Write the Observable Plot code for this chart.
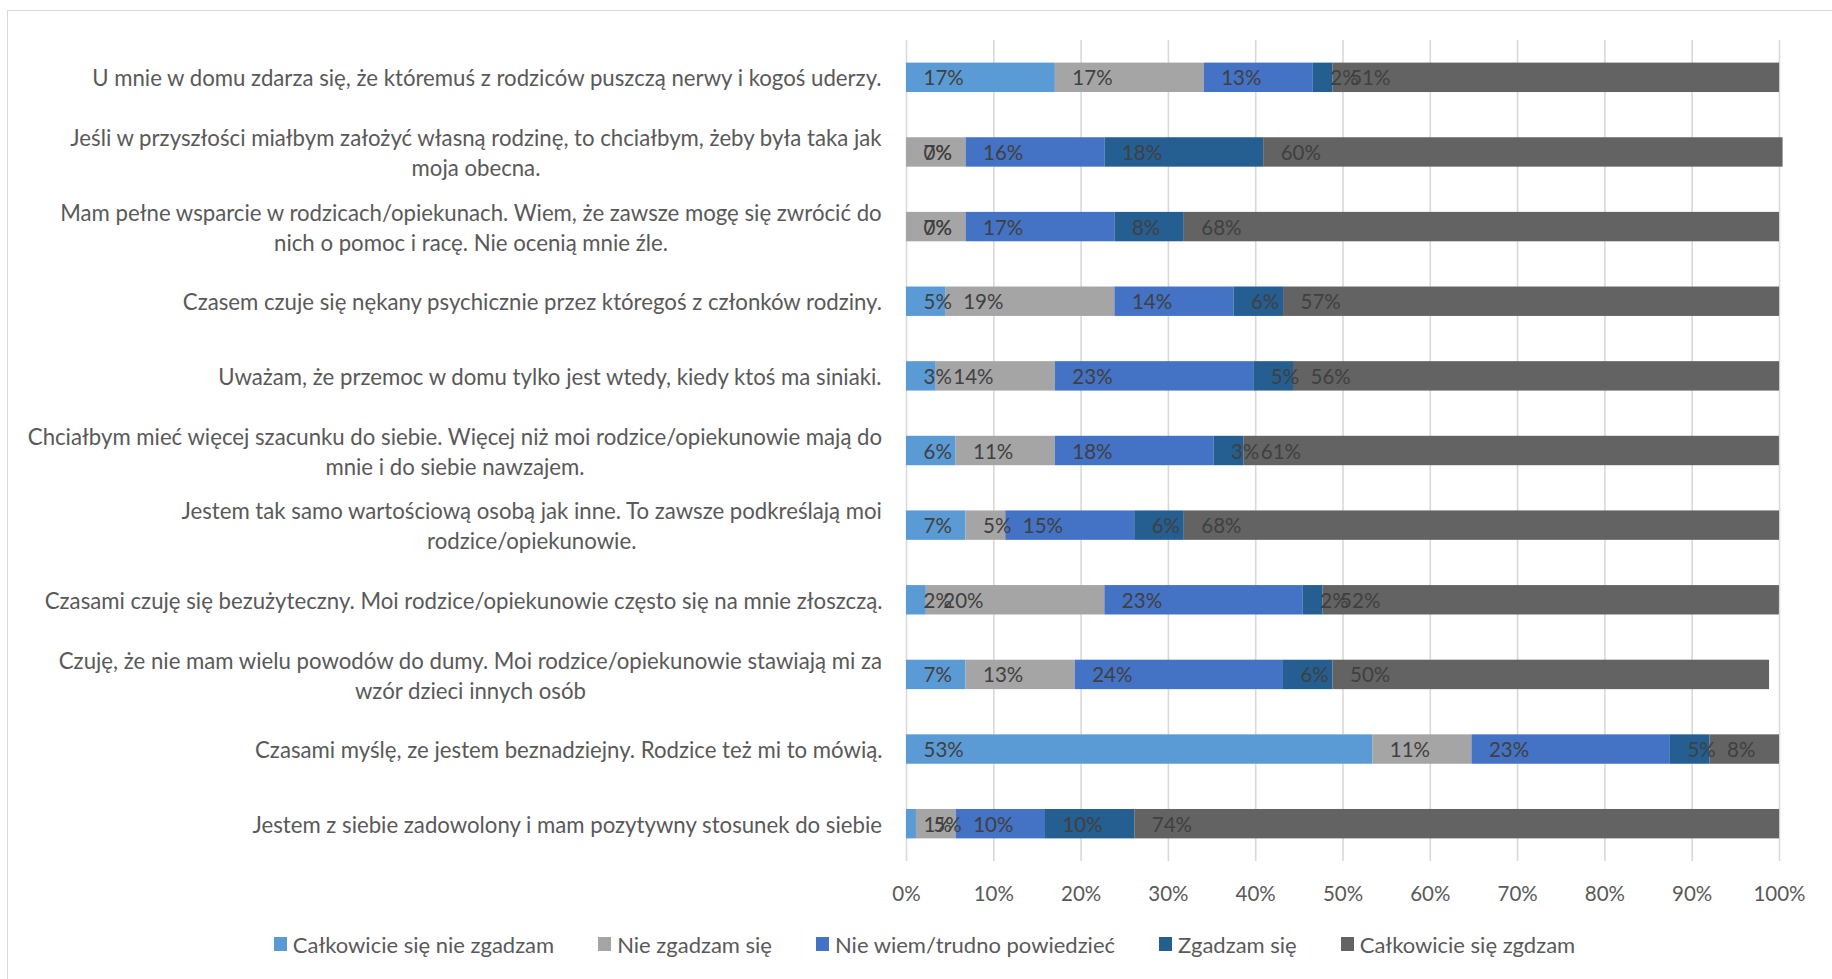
<!DOCTYPE html>
<html>
<head>
<meta charset="utf-8">
<script src="https://cdn.jsdelivr.net/npm/d3@7"></script>
<script src="https://cdn.jsdelivr.net/npm/@observablehq/plot@0.6"></script>
<style>
  html, body { margin: 0; padding: 0; background: #fff; overflow: hidden; }
  #wrap { position: relative; width: 1832px; height: 979px; font-family: Lato, "Noto Sans", sans-serif; }
  #frame { position: absolute; left: 7px; top: 10px; width: 1850px; height: 1000px; border: 1.5px solid #D9D9D9; box-sizing: border-box; pointer-events: none; }
  #chart { position: absolute; left: 0; top: 0; }
  #legend { position: absolute; left: 0; top: 932px; width: 1849px; height: 24px; display: flex; justify-content: center; align-items: center; font-size: 22px; color: #595959; }
  .item { display: flex; align-items: center; margin: 0 22px; white-space: nowrap; }
  .sw { width: 13px; height: 14px; margin-right: 6px; }
</style>
</head>
<body>
<div id="wrap">
  <div id="frame"></div>
  <div id="chart"></div>
  <div id="legend"></div>
</div>
<script>
const questions = [
  "U mnie w domu zdarza się, że któremuś z rodziców puszczą nerwy i kogoś uderzy.",
  "Jeśli w przyszłości miałbym założyć własną rodzinę, to chciałbym, żeby była taka jak\nmoja obecna.",
  "Mam pełne wsparcie w rodzicach/opiekunach. Wiem, że zawsze mogę się zwrócić do\nnich o pomoc i racę. Nie ocenią mnie źle.",
  "Czasem czuje się nękany psychicznie przez któregoś z członków rodziny.",
  "Uważam, że przemoc w domu tylko jest wtedy, kiedy ktoś ma siniaki.",
  "Chciałbym mieć więcej szacunku do siebie. Więcej niż moi rodzice/opiekunowie mają do\nmnie i do siebie nawzajem.",
  "Jestem tak samo wartościową osobą jak inne. To zawsze podkreślają moi\nrodzice/opiekunowie.",
  "Czasami czuję się bezużyteczny. Moi rodzice/opiekunowie często się na mnie złoszczą.",
  "Czuję, że nie mam wielu powodów do dumy. Moi rodzice/opiekunowie stawiają mi za\nwzór dzieci innych osób",
  "Czasami myślę, ze jestem beznadziejny. Rodzice też mi to mówią.",
  "Jestem z siebie zadowolony i mam pozytywny stosunek do siebie"
];
const answers = [
  "Całkowicie się nie zgadzam",
  "Nie zgadzam się",
  "Nie wiem/trudno powiedzieć",
  "Zgadzam się",
  "Całkowicie się zgdzam"
];
const colors = ["#5B9BD5", "#A5A5A5", "#4472C4", "#255E91", "#636363"];

// percentages per question (same order as questions)
const stronglyDisagree = [17.05, 0, 0, 4.55, 3.41, 5.68, 6.82, 2.27, 6.82, 53.41, 1.14];
const disagree         = [17.05, 6.82, 6.82, 19.32, 13.64, 11.36, 4.55, 20.45, 12.5, 11.36, 4.55];
const unsure           = [12.5, 15.91, 17.05, 13.64, 22.73, 18.18, 14.77, 22.73, 23.86, 22.73, 10.23];
const agree            = [2.27, 18.18, 7.95, 5.68, 4.55, 3.41, 5.68, 2.27, 5.68, 4.55, 10.23];
const stronglyAgree    = [51.14, 59.5, 68.18, 56.82, 55.68, 61.36, 68.18, 52.27, 50.0, 7.95, 73.86];
const xTicks = [0, 10, 20, 30, 40, 50, 60, 70, 80, 90, 100];

const series = [stronglyDisagree, disagree, unsure, agree, stronglyAgree];
const data = [];
questions.forEach((q, i) => {
  answers.forEach((a, j) => data.push({question: q, answer: a, value: series[j][i]}));
});

const FS = 22.2;   // category label size
const NFS = 20.5;  // number label size
const FONT = "Lato, 'Noto Sans', sans-serif";
const ctx = document.createElement("canvas").getContext("2d");
ctx.font = `${FS}px Lato`;
const blockWidth = s => Math.max(...s.split("\n").map(l => ctx.measureText(l).width));

const labelMarks = questions.map(q => Plot.text([q], {
  y: d => d,
  text: d => d,
  frameAnchor: "left",
  textAnchor: "middle",
  dx: -(24 + blockWidth(q) / 2),
  dy: -1,
  lineHeight: 30 / FS,
  fill: "#595959",
  fontSize: FS
}));

const chart = Plot.plot({
  width: 1832,
  height: 920,
  marginLeft: 906,
  marginRight: 53,
  marginTop: 40,
  marginBottom: 59,
  style: {fontFamily: FONT, background: "transparent", overflow: "visible"},
  x: {domain: [0, 100], ticks: xTicks, tickFormat: d => d + "%", label: null},
  y: {domain: questions, paddingInner: 0.606, paddingOuter: 0.303, round: false, axis: null},
  color: {domain: answers, range: colors},
  marks: [
    Plot.gridX(xTicks, {stroke: "#D9D9D9", strokeOpacity: 1, strokeWidth: 1.6}),
    Plot.barX(data, {x: "value", y: "question", fill: "answer", order: answers}),
    Plot.text(data, Plot.stackX1({
      x: "value", y: "question", z: "answer", order: answers,
      text: d => Math.round(d.value) + "%",
      textAnchor: "start", dx: 17, dy: 1, fill: "#404040", fontSize: NFS
    })),
    Plot.axisX(xTicks, {tickSize: 0, tickPadding: 25, fontSize: NFS, fill: "#595959", tickFormat: d => d + "%", label: null}),
    ...labelMarks
  ]
});
document.getElementById("chart").appendChild(chart);

const legend = document.getElementById("legend");
answers.forEach((a, j) => {
  const it = document.createElement("div");
  it.className = "item";
  const sw = document.createElement("div");
  sw.className = "sw";
  sw.style.background = colors[j];
  const t = document.createElement("span");
  t.textContent = a;
  it.appendChild(sw);
  it.appendChild(t);
  legend.appendChild(it);
});
</script>
</body>
</html>
